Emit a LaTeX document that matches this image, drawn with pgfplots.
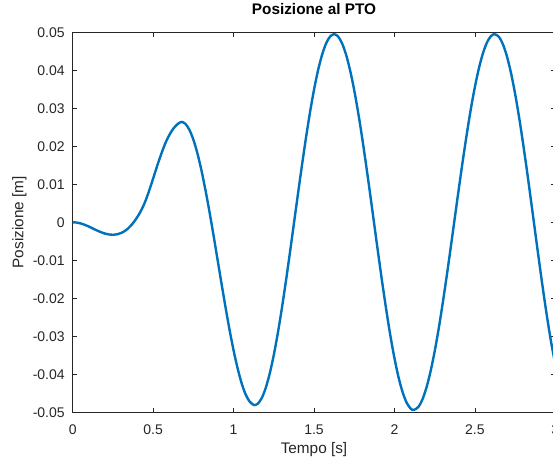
\documentclass[border=0pt]{standalone}
\usepackage{pgfplots}
\pgfplotsset{compat=1.18}
\usepackage{fontspec}
\setmainfont{Liberation Sans}
\definecolor{mlblue}{RGB}{0,114,189}
\definecolor{axgray}{RGB}{38,38,38}

\pgfplotstableread{
t y
0 0
0.025 -0.00008
0.05 -0.00031
0.075 -0.00067
0.1 -0.00112
0.125 -0.00163
0.15 -0.00214
0.175 -0.00260
0.2 -0.00297
0.225 -0.00321
0.25 -0.00330
0.275 -0.00318
0.3 -0.00285
0.325 -0.00228
0.35 -0.00140
0.375 -0.00022
0.4 0.00125
0.425 0.00305
0.45 0.00535
0.475 0.00825
0.5 0.01150
0.525 0.01480
0.55 0.01790
0.575 0.02070
0.6 0.02290
0.625 0.02460
0.65 0.02575
0.675 0.02640
0.7 0.02593
0.725 0.02437
0.75 0.02177
0.775 0.01819
0.8 0.01375
0.825 0.00856
0.85 0.00284
0.875 -0.00331
0.9 -0.00969
0.925 -0.01610
0.95 -0.02235
0.975 -0.02829
1.0 -0.03369
1.025 -0.03839
1.05 -0.04233
1.075 -0.04530
1.1 -0.04720
1.125 -0.04806
1.132 -0.04810
1.15 -0.04778
1.175 -0.04628
1.2 -0.04359
1.225 -0.03978
1.25 -0.03494
1.275 -0.02921
1.3 -0.02271
1.325 -0.01561
1.35 -0.00812
1.375 -0.00039
1.4 0.00737
1.425 0.01495
1.45 0.02219
1.475 0.02888
1.5 0.03486
1.525 0.03996
1.55 0.04404
1.575 0.04705
1.6 0.04887
1.625 0.04950
1.65 0.04888
1.675 0.04703
1.7 0.04400
1.725 0.03987
1.75 0.03474
1.775 0.02874
1.8 0.02201
1.825 0.01473
1.85 0.00709
1.875 -0.00074
1.9 -0.00854
1.925 -0.01612
1.95 -0.02329
1.975 -0.02993
2.0 -0.03574
2.025 -0.04073
2.05 -0.04462
2.075 -0.04741
2.1 -0.04900
2.12 -0.04940
2.15 -0.04853
2.175 -0.04651
2.2 -0.04335
2.225 -0.03914
2.25 -0.03398
2.275 -0.02800
2.3 -0.02129
2.325 -0.01411
2.35 -0.00658
2.375 0.00113
2.4 0.00880
2.425 0.01626
2.45 0.02332
2.475 0.02986
2.5 0.03560
2.525 0.04053
2.55 0.04445
2.575 0.04731
2.6 0.04899
2.623 0.04950
2.65 0.04875
2.675 0.04675
2.7 0.04353
2.725 0.03918
2.75 0.03380
2.775 0.02756
2.8 0.02058
2.825 0.01314
2.85 0.00530
2.875 -0.00266
2.9 -0.01055
2.925 -0.01819
2.95 -0.02533
2.975 -0.03185
3.0 -0.03748
}\pto

\begin{document}
\begin{tikzpicture}
\begin{axis}[
    scale only axis,
    width=362pt, height=285pt,
    at={(0,0)}, anchor=south west,
    xmin=0, xmax=3, ymin=-0.05, ymax=0.05,
    axis line style={axgray, line width=0.5pt},
    every tick/.style={axgray, line width=0.5pt},
    tick align=inside,
    major tick length=3.5pt,
    xtick={0,0.5,1,1.5,2,2.5,3},
    xticklabels={0,0.5,1,1.5,2,2.5,3},
    ytick={-0.05,-0.04,-0.03,-0.02,-0.01,0,0.01,0.02,0.03,0.04,0.05},
    yticklabels={-0.05,-0.04,-0.03,-0.02,-0.01,0,0.01,0.02,0.03,0.04,0.05},
    scaled ticks=false,
    ticklabel style={font=\fontsize{10.5}{12}\selectfont, text=axgray, inner sep=0pt},
    xticklabel style={anchor=north, yshift=-9pt},
    yticklabel style={anchor=east, xshift=-5.8pt},
    title={Posizione al PTO},
    title style={at={(axis description cs:0.5,1)}, anchor=base, yshift=7pt,
        font=\fontsize{11.5}{13}\selectfont\bfseries, text=black, inner sep=0pt},
    xlabel={Tempo [s]},
    xlabel style={at={(axis description cs:0.5,0)}, anchor=base, yshift=-31.3pt,
        font=\fontsize{11.5}{13}\selectfont, text=axgray, inner sep=0pt},
    ylabel={Posizione [m]},
    ylabel style={at={([xshift=-37pt]axis description cs:0,0.5)}, anchor=base, rotate=0,
        font=\fontsize{11.5}{13}\selectfont, text=axgray, inner sep=0pt},
]
\addplot[mlblue, line width=1.8pt, smooth] table[x=t, y=y] {\pto};
\end{axis}
\pgfresetboundingbox
\useasboundingbox (-54.5pt,-35pt) rectangle (360.25pt,309.2pt);
\end{tikzpicture}
\end{document}
